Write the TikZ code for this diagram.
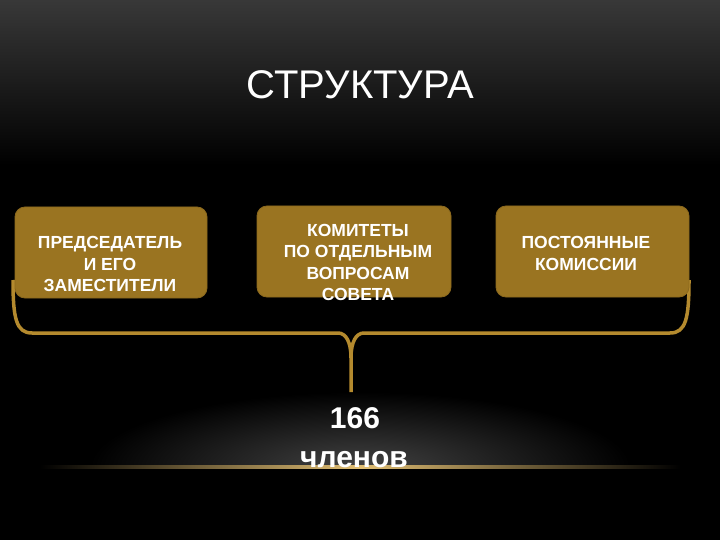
\documentclass[tikz,border=0pt]{standalone}
\usepackage{fontspec}
\setmainfont{Liberation Sans}
\definecolor{boxgold}{RGB}{154,116,33}
\definecolor{boxedge}{RGB}{140,105,30}
\definecolor{bracegold}{RGB}{180,138,46}
\definecolor{topgray}{RGB}{56,56,56}
\definecolor{glowgray}{RGB}{66,66,66}
\definecolor{linegold}{RGB}{225,190,115}
\begin{document}
\begin{tikzpicture}[x=1pt,y=-1pt,
  box/.style={fill=boxgold, draw=boxedge, line width=0.8pt, rounded corners=10pt},
  boxtext/.style={text=white, font=\bfseries\fontsize{17.5}{21.5}\selectfont, align=center, anchor=base, inner sep=0pt},
  bigtext/.style={text=white, font=\bfseries\fontsize{30}{36}\selectfont, anchor=base, inner sep=0pt},
  brace/.style={draw=bracegold, line width=3.5pt, line join=round}]
% background
\fill[black] (0,0) rectangle (720,540);
\useasboundingbox (0,0) rectangle (720,540);
\shade[top color=topgray, bottom color=black] (0,0) rectangle (720,165);
\begin{scope}
  \clip (0,380) rectangle (720,467);
  \shade[inner color=glowgray, outer color=black] (360,467) ellipse (270 and 75);
\end{scope}
\shade[left color=black, right color=black, middle color=linegold] (40,465.3) rectangle (680,468.7);
% title
\node[text=white, font=\fontsize{40}{48}\selectfont, anchor=base, inner sep=0pt] (title) at (360.5,99) {СТРУКТУРА};
% brace
\coordinate (tip) at (351,392);
\draw[brace] (13,280) .. controls (13,318) and (16,333) .. (32,333) -- (338,333)
  .. controls (346,333) and (351,342) .. (351,358) -- (tip);
\draw[brace] (689,280) .. controls (689,318) and (686,333) .. (670,333) -- (364,333)
  .. controls (356,333) and (351,342) .. (351,358);
% boxes
\node[box, minimum width=192pt, minimum height=91pt] (b1) at (111,252.5) {};
\node[box, minimum width=194pt, minimum height=91pt] (b2) at (354,251.5) {};
\node[box, minimum width=193pt, minimum height=91pt] (b3) at (592.5,251.5) {};
\node[boxtext] (t1) at (110,291.5) {ПРЕДСЕДАТЕЛЬ\\И ЕГО\\ЗАМЕСТИТЕЛИ};
\node[boxtext] (t2) at (358,300.5) {КОМИТЕТЫ\\ПО ОТДЕЛЬНЫМ\\ВОПРОСАМ\\СОВЕТА};
\node[boxtext] (t3) at (586,270) {ПОСТОЯННЫЕ\\КОМИССИИ};
% count
\node[bigtext] (n166) at (355,428) {166};
\node[bigtext] (chl) at (354,467) {членов};
\end{tikzpicture}
\end{document}
